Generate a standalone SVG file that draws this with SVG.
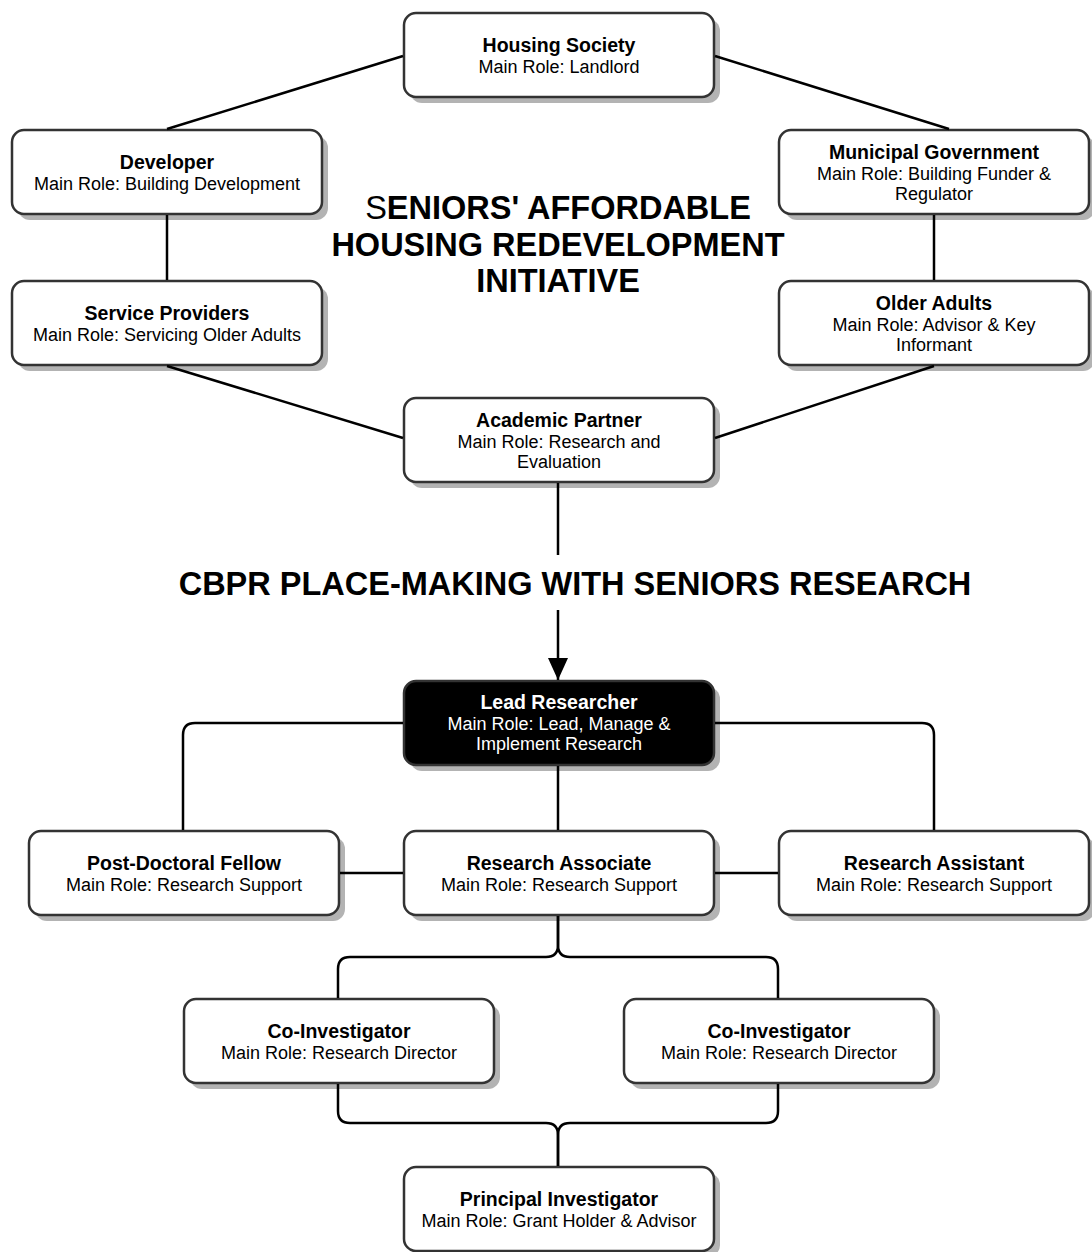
<svg xmlns="http://www.w3.org/2000/svg" width="1092" height="1252" viewBox="0 0 1092 1252">
<style>
.box{fill:#fff;stroke:#333;stroke-width:2.5}
.dark{fill:#000;stroke:#333;stroke-width:2.5}
.sh{fill:#b3b3b3}
.t{font-family:"Liberation Sans",Arial,sans-serif;font-size:19.5px;font-weight:bold;text-anchor:middle;fill:#000}
.s{font-family:"Liberation Sans",Arial,sans-serif;font-size:18px;text-anchor:middle;fill:#000}
.w{fill:#fff}
.c{fill:none;stroke:#000;stroke-width:2.5}
.big{font-family:"Liberation Sans",Arial,sans-serif;font-size:32.5px;font-weight:bold;text-anchor:middle;fill:#000}
</style>
<defs>
<marker id="arr" viewBox="0 0 22 20" refX="22" refY="10" markerWidth="22" markerHeight="20" markerUnits="userSpaceOnUse" orient="auto">
<path d="M0,0 L22,10 L0,20 Z" fill="#000"/>
</marker>
</defs>
<rect width="1092" height="1252" fill="#fff"/>
<g id="title1">
<text class="big" x="558" y="219"><tspan font-weight="normal">S</tspan>ENIORS' AFFORDABLE</text>
<text class="big" x="558" y="256">HOUSING REDEVELOPMENT</text>
<text class="big" x="558" y="292">INITIATIVE</text>
</g>
<g id="title2">
<text class="big" x="575" y="595">CBPR PLACE-MAKING WITH SENIORS RESEARCH</text>
</g>
<g id="housing-society">
<rect class="sh" x="410" y="19" width="310" height="84" rx="12"/>
<rect class="box" x="404" y="13" width="310" height="84" rx="12"/>
<text class="t" x="559" y="52">Housing Society</text>
<text class="s" x="559" y="73">Main Role: Landlord</text>
</g>
<g id="developer">
<rect class="sh" x="18" y="136" width="310" height="84" rx="12"/>
<rect class="box" x="12" y="130" width="310" height="84" rx="12"/>
<text class="t" x="167" y="169">Developer</text>
<text class="s" x="167" y="190">Main Role: Building Development</text>
</g>
<g id="municipal-government">
<rect class="sh" x="785" y="136" width="310" height="84" rx="12"/>
<rect class="box" x="779" y="130" width="310" height="84" rx="12"/>
<text class="t" x="934" y="159">Municipal Government</text>
<text class="s" x="934" y="180">Main Role: Building Funder &amp;</text>
<text class="s" x="934" y="200">Regulator</text>
</g>
<g id="service-providers">
<rect class="sh" x="18" y="287" width="310" height="84" rx="12"/>
<rect class="box" x="12" y="281" width="310" height="84" rx="12"/>
<text class="t" x="167" y="320">Service Providers</text>
<text class="s" x="167" y="341">Main Role: Servicing Older Adults</text>
</g>
<g id="older-adults">
<rect class="sh" x="785" y="287" width="310" height="84" rx="12"/>
<rect class="box" x="779" y="281" width="310" height="84" rx="12"/>
<text class="t" x="934" y="310">Older Adults</text>
<text class="s" x="934" y="331">Main Role: Advisor &amp; Key</text>
<text class="s" x="934" y="351">Informant</text>
</g>
<g id="academic-partner">
<rect class="sh" x="410" y="404" width="310" height="84" rx="12"/>
<rect class="box" x="404" y="398" width="310" height="84" rx="12"/>
<text class="t" x="559" y="427">Academic Partner</text>
<text class="s" x="559" y="448">Main Role: Research and</text>
<text class="s" x="559" y="468">Evaluation</text>
</g>
<g id="lead-researcher">
<rect class="sh" x="410" y="687" width="310" height="84" rx="12"/>
<rect class="dark" x="404" y="681" width="310" height="84" rx="12"/>
<text class="t w" x="559" y="709">Lead Researcher</text>
<text class="s w" x="559" y="730">Main Role: Lead, Manage &amp;</text>
<text class="s w" x="559" y="750">Implement Research</text>
</g>
<g id="post-doctoral-fellow">
<rect class="sh" x="35" y="837" width="310" height="84" rx="12"/>
<rect class="box" x="29" y="831" width="310" height="84" rx="12"/>
<text class="t" x="184" y="870">Post-Doctoral Fellow</text>
<text class="s" x="184" y="891">Main Role: Research Support</text>
</g>
<g id="research-associate">
<rect class="sh" x="410" y="837" width="310" height="84" rx="12"/>
<rect class="box" x="404" y="831" width="310" height="84" rx="12"/>
<text class="t" x="559" y="870">Research Associate</text>
<text class="s" x="559" y="891">Main Role: Research Support</text>
</g>
<g id="research-assistant">
<rect class="sh" x="785" y="837" width="310" height="84" rx="12"/>
<rect class="box" x="779" y="831" width="310" height="84" rx="12"/>
<text class="t" x="934" y="870">Research Assistant</text>
<text class="s" x="934" y="891">Main Role: Research Support</text>
</g>
<g id="co-investigator-1">
<rect class="sh" x="190" y="1005" width="310" height="84" rx="12"/>
<rect class="box" x="184" y="999" width="310" height="84" rx="12"/>
<text class="t" x="339" y="1038">Co-Investigator</text>
<text class="s" x="339" y="1059">Main Role: Research Director</text>
</g>
<g id="co-investigator-2">
<rect class="sh" x="630" y="1005" width="310" height="84" rx="12"/>
<rect class="box" x="624" y="999" width="310" height="84" rx="12"/>
<text class="t" x="779" y="1038">Co-Investigator</text>
<text class="s" x="779" y="1059">Main Role: Research Director</text>
</g>
<g id="principal-investigator">
<rect class="sh" x="410" y="1173" width="310" height="84" rx="12"/>
<rect class="box" x="404" y="1167" width="310" height="84" rx="12"/>
<text class="t" x="559" y="1206">Principal Investigator</text>
<text class="s" x="559" y="1227">Main Role: Grant Holder &amp; Advisor</text>
</g>
<g id="connectors">
<line class="c" x1="403" y1="56" x2="167" y2="129"/>
<line class="c" x1="715" y1="56" x2="949" y2="129"/>
<line class="c" x1="167" y1="215" x2="167" y2="280"/>
<line class="c" x1="934" y1="215" x2="934" y2="280"/>
<line class="c" x1="167" y1="366" x2="403" y2="438"/>
<line class="c" x1="934" y1="366" x2="715" y2="438"/>
<line class="c" x1="558" y1="483" x2="558" y2="555"/>
<line class="c" x1="558" y1="610" x2="558" y2="680" marker-end="url(#arr)"/>
<path class="c" d="M403,723 H195 Q183,723 183,735 V830"/>
<path class="c" d="M715,723 H922 Q934,723 934,735 V830"/>
<line class="c" x1="558" y1="766" x2="558" y2="830"/>
<line class="c" x1="340" y1="873" x2="403" y2="873"/>
<line class="c" x1="715" y1="873" x2="778" y2="873"/>
<path class="c" d="M558,916 V945 Q558,957 546,957 H350 Q338,957 338,969 V998"/>
<path class="c" d="M558,916 V945 Q558,957 570,957 H766 Q778,957 778,969 V998"/>
<path class="c" d="M338,1084 V1111 Q338,1123 350,1123 H546 Q558,1123 558,1135 V1166"/>
<path class="c" d="M778,1084 V1111 Q778,1123 766,1123 H570 Q558,1123 558,1135 V1166"/>
</g>
</svg>
